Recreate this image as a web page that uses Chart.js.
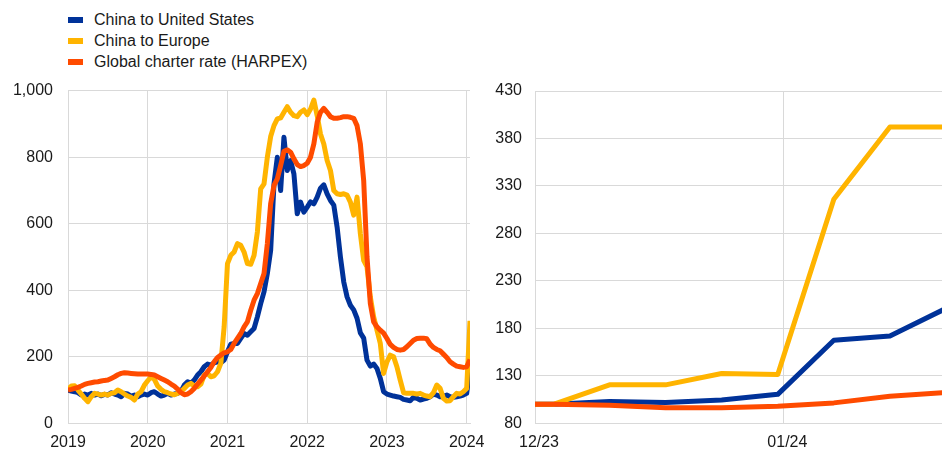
<!DOCTYPE html>
<html>
<head>
<meta charset="utf-8">
<script src="https://cdn.jsdelivr.net/npm/chart.js@4/dist/chart.umd.min.js"></script>
<style>
html,body{margin:0;padding:0;background:#fff;width:942px;height:450px;overflow:hidden;font-family:"Liberation Sans",Arial,sans-serif;}
#leftCanvas{position:absolute;left:0;top:0;}
#rightCanvas{position:absolute;left:480px;top:0;}
#legend{position:absolute;left:68px;top:9.5px;}
.item{height:21px;display:flex;align-items:center;font-size:16px;color:#1a1a1a;white-space:nowrap;}
.sw{width:15px;height:6px;margin-right:11px;}
</style>
</head>
<body>
<div id="legend"></div>
<canvas id="leftCanvas" width="500" height="450"></canvas>
<canvas id="rightCanvas" width="462" height="450"></canvas>
<script>
// ---- Legend / series ----
const seriesNames = ['China to United States', 'China to Europe', 'Global charter rate (HARPEX)'];
const seriesColors = ['#003299', '#FFB400', '#FF4B00'];

// ---- Left panel: half-monthly observations from Jan 2019 ----
const leftStartYear = 2019;
const leftPointsPerYear = 24;
const leftUS = [100,97,95,92,85,88,85,90,85,88,83,87,85,92,88,85,80,90,88,82,85,80,85,88,85,92,95,88,82,85,90,85,88,90,95,115,125,120,130,145,155,170,178,175,182,185,182,190,215,238,240,240,255,270,265,275,285,320,360,395,450,520,720,800,700,860,760,790,750,630,665,635,650,666,660,680,707,717,690,670,656,590,500,425,380,355,341,316,272,256,190,172,178,165,135,95,88,85,82,80,78,72,70,68,78,75,70,73,75,80,88,85,80,82,85,80,78,80,82,85,90,165];
const leftEU = [103,112,113,100,88,75,65,80,90,88,85,88,85,90,92,100,95,88,82,78,70,88,95,115,128,140,132,112,102,95,92,88,86,90,95,105,115,120,112,110,118,145,150,140,143,155,180,290,480,505,515,540,535,515,480,478,505,575,705,720,800,862,895,915,918,935,952,935,925,922,935,942,928,945,972,925,870,840,790,760,700,690,688,690,686,665,626,680,570,490,470,380,320,280,240,150,185,205,200,170,130,92,90,90,90,88,90,85,82,80,92,115,105,75,67,68,80,90,88,95,105,308];
const leftHARPEX = [100,102,105,108,112,117,120,122,124,125,127,129,130,135,140,146,150,152,151,150,149,148,148,148,148,147,145,140,135,130,125,118,112,103,92,86,88,95,105,118,130,142,155,168,185,198,205,212,215,222,240,255,270,290,305,340,370,390,420,450,540,660,715,735,775,818,822,815,795,778,772,775,782,800,840,905,935,947,935,922,917,917,919,922,922,920,917,895,840,730,500,360,305,290,280,271,255,237,228,222,220,222,230,240,250,255,256,256,254,238,228,222,218,208,198,185,178,172,170,168,170,192];
const leftTickYears = [2019, 2020, 2021, 2022, 2023, 2024];
const leftYMin = 0, leftYMax = 1000, leftYStep = 200;

// ---- Right panel: weekly index (Dec 2023 = 100), days since 1 Dec 2023 ----
const rightDays = [0, 2.3, 9.3, 16.3, 23.3, 30.3, 37.3, 44.3, 51.3];
const rightUS = [100, 100, 103, 102, 104.5, 110.5, 167.5, 172, 201];
const rightEU = [100, 100, 120.5, 120.5, 132.5, 131.5, 316, 392, 392];
const rightHARPEX = [100, 100, 99, 96.5, 96.5, 98, 101.5, 108.5, 112.5];
const rightTickDays = [0, 31];
const rightTickLabels = ['12/23', '01/24'];
const rightXMax = 50.8;
const rightYMin = 80, rightYMax = 430, rightYStep = 50;

// ---- HTML legend ----
const legendEl = document.getElementById('legend');
seriesNames.forEach((n, i) => {
  const row = document.createElement('div');
  row.className = 'item';
  const sw = document.createElement('span');
  sw.className = 'sw';
  sw.style.background = seriesColors[i];
  const tx = document.createElement('span');
  tx.textContent = n;
  row.appendChild(sw); row.appendChild(tx);
  legendEl.appendChild(row);
});

const FONT = {family: '"Liberation Sans", Arial, sans-serif', size: 16};
const GRID = '#d9d9d9';
const TEXT = '#1a1a1a';

function mkDatasets(xs, arrays) {
  return arrays.map((arr, i) => ({
    label: seriesNames[i],
    data: arr.map((v, j) => ({x: xs[j], y: v})),
    borderColor: seriesColors[i],
    backgroundColor: seriesColors[i],
    borderWidth: 5,
    pointRadius: 0,
    tension: 0,
    fill: false,
    borderJoinStyle: 'round',
    order: 3 - i
  }));
}

const leftXs = leftUS.map((_, j) => leftStartYear + j / leftPointsPerYear);

new Chart(document.getElementById('leftCanvas'), {
  type: 'line',
  data: {datasets: mkDatasets(leftXs, [leftUS, leftEU, leftHARPEX])},
  options: {
    responsive: false,
    animation: false,
    devicePixelRatio: 1,
    layout: {padding: {top: 90.7, right: 30, bottom: 0, left: 0}},
    plugins: {legend: {display: false}, tooltip: {enabled: false}},
    scales: {
      x: {
        type: 'linear',
        min: leftStartYear,
        max: leftXs[leftXs.length - 1],
        afterBuildTicks: s => { s.ticks = leftTickYears.map(v => ({value: v})); },
        afterFit: s => { s.height = 26.7; },
        ticks: {font: FONT, color: TEXT, padding: 10, maxRotation: 0, autoSkip: false,
          callback: v => String(v)},
        grid: {color: GRID, lineWidth: 1, drawTicks: false},
        border: {color: GRID, width: 1}
      },
      y: {
        type: 'linear',
        min: leftYMin, max: leftYMax,
        afterFit: s => { s.width = 68; },
        ticks: {font: FONT, color: TEXT, padding: 15, stepSize: leftYStep,
          callback: v => v.toLocaleString('en-US')},
        grid: {color: GRID, lineWidth: 1, drawTicks: false},
        border: {color: GRID, width: 1}
      }
    }
  }
});

new Chart(document.getElementById('rightCanvas'), {
  type: 'line',
  data: {datasets: mkDatasets(rightDays, [rightUS, rightEU, rightHARPEX])},
  options: {
    responsive: false,
    animation: false,
    devicePixelRatio: 1,
    layout: {padding: {top: 91, right: 0, bottom: 0, left: 0}},
    plugins: {legend: {display: false}, tooltip: {enabled: false}},
    scales: {
      x: {
        type: 'linear',
        min: 0, max: rightXMax,
        afterBuildTicks: s => { s.ticks = rightTickDays.map(v => ({value: v})); },
        afterFit: s => { s.height = 26.7; },
        ticks: {font: FONT, color: TEXT, padding: 10, maxRotation: 0, autoSkip: false, labelOffset: 4,
          callback: (v, i) => rightTickLabels[i]},
        grid: {color: GRID, lineWidth: 1, drawTicks: false},
        border: {color: GRID, width: 1}
      },
      y: {
        type: 'linear',
        min: rightYMin, max: rightYMax,
        afterFit: s => { s.width = 55; },
        ticks: {font: FONT, color: TEXT, padding: 13, stepSize: rightYStep},
        grid: {color: GRID, lineWidth: 1, drawTicks: false},
        border: {color: GRID, width: 1}
      }
    }
  }
});
</script>
</body>
</html>
